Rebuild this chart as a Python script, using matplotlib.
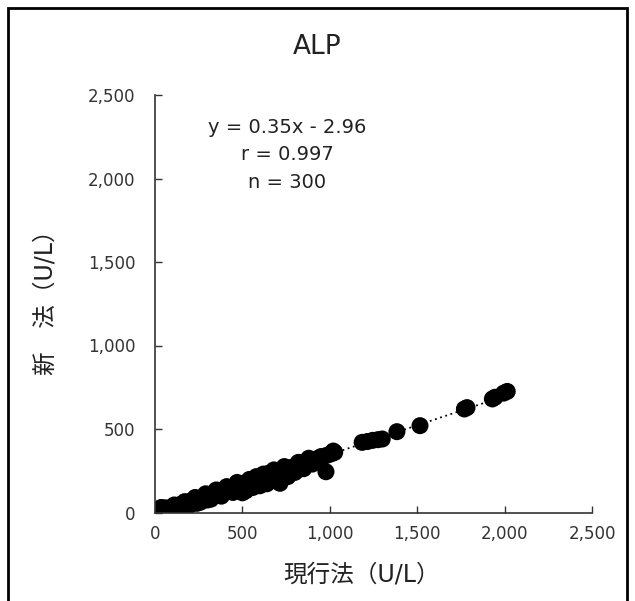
import matplotlib
matplotlib.use('Agg')
import matplotlib.pyplot as plt
from matplotlib.patches import Rectangle

plt.rcParams['font.family'] = ['DejaVu Sans', 'Noto Sans CJK JP']

# ALP: current method (x) vs new method (y), U/L
current = [20, 25, 28, 32, 36, 40, 44, 48, 52, 56, 60, 64, 68, 72, 76, 80, 85, 90,
           95, 100, 105, 110, 116, 122, 128, 134, 140, 146, 152, 158, 165, 172, 180,
           188, 196, 205, 214, 222, 230, 240, 250, 260, 270, 280, 290, 300, 310, 320,
           330, 340, 350, 360, 372, 384, 396, 408, 420, 432, 446, 460, 474, 488, 502,
           518, 534, 550, 566, 582, 600, 618, 636, 654, 672, 690, 710, 730, 750, 770,
           792, 814, 836, 858, 880, 902, 924, 946, 968, 990, 1010, 1028,
           70, 90, 100, 120, 150, 200, 260, 320, 380, 446, 500, 520, 560, 600, 640,
           690, 715, 760, 800, 850, 900, 978, 650, 700, 860, 950, 1020,
           45, 60, 110, 170, 230, 290, 350, 410, 470, 540, 580, 620, 680, 740, 820, 880,
           80, 130, 180, 240, 300, 15, 35,
           1185, 1215, 1245, 1275, 1300, 1384, 1516, 1770, 1785, 1930, 1945, 1995, 2015]
new = [8, 6, 10, 9, 12, 11, 14, 13, 15, 17, 18, 19, 20, 22, 24, 25, 26, 28,
       30, 32, 33, 35, 36, 39, 41, 43, 45, 47, 49, 51, 53, 56, 58,
       61, 64, 67, 70, 73, 76, 79, 82, 86, 89, 93, 96, 100, 103, 107,
       110, 114, 117, 121, 125, 129, 133, 137, 142, 146, 151, 156, 161, 166, 170,
       176, 181, 187, 193, 199, 205, 212, 218, 225, 231, 238, 245, 252, 259, 266,
       274, 281, 289, 297, 305, 313, 321, 329, 337, 345, 352, 360,
       15, 22, 18, 30, 30, 45, 62, 80, 98, 120, 118, 130, 150, 160, 172,
       190, 175, 215, 240, 262, 290, 244, 235, 250, 305, 335, 368,
       25, 28, 45, 65, 90, 112, 135, 155, 180, 198, 215, 230, 255, 275, 300, 325,
       8, 22, 38, 55, 75, 20, 30,
       420, 425, 432, 436, 440, 484, 520, 620, 628, 680, 690, 715, 725]

slope, intercept = 0.35, -2.96
r_value, n_value = 0.997, 300

ticks = [0, 500, 1000, 1500, 2000, 2500]
tick_labels = ['0', '500', '1,000', '1,500', '2,000', '2,500']

fig = plt.figure(figsize=(6.35, 6.01), dpi=100)
ax = fig.add_axes([155 / 635, 1 - 512.5 / 601, 437 / 635, 417.5 / 601])

# regression line
xl = [min(current), max(current)]
ax.plot(xl, [slope * v + intercept for v in xl], color='black', linestyle=(0, (1, 2)),
        linewidth=1.3, zorder=1)
ax.scatter(current, new, s=150, color='black', edgecolors='none', zorder=2)

ax.set_xlim(0, 2500)
ax.set_ylim(0, 2500)
ax.set_xticks(ticks)
ax.set_xticklabels(tick_labels)
ax.set_yticks(ticks)
ax.set_yticklabels(tick_labels)
ax.tick_params(direction='in', length=5, width=1, labelsize=12, colors='#333333')
ax.tick_params(axis='x', pad=9)
ax.tick_params(axis='y', pad=14)
for side in ('top', 'right'):
    ax.spines[side].set_visible(False)
for side in ('left', 'bottom'):
    ax.spines[side].set_linewidth(1.2)
    ax.spines[side].set_color('#333333')

fig.text(0.5, 1 - 47 / 601, 'ALP', ha='center', va='center', fontsize=19,
         color='#222222')
fig.text(46 / 635, 1 - 297 / 601, '新　法（U/L）', rotation=90, ha='center',
         va='center', fontsize=17, color='#222222')
fig.text(362 / 635, 1 - 575 / 601, '現行法（U/L）', ha='center', va='center',
         fontsize=17, color='#222222')

stats = f'y = {slope:.2f}x - {abs(intercept):.2f}\nr = {r_value}\nn = {n_value}'
fig.text(287 / 635, 1 - 155 / 601, stats, ha='center', va='center', fontsize=14,
         linespacing=1.55, color='#222222')

# outer frame
fig.patches.append(Rectangle((8 / 635, -0.02), 619 / 635, 1 - 8 / 601 + 0.02,
                             transform=fig.transFigure, fill=False,
                             edgecolor='black', linewidth=2))

fig.savefig('out.png', dpi=100)
